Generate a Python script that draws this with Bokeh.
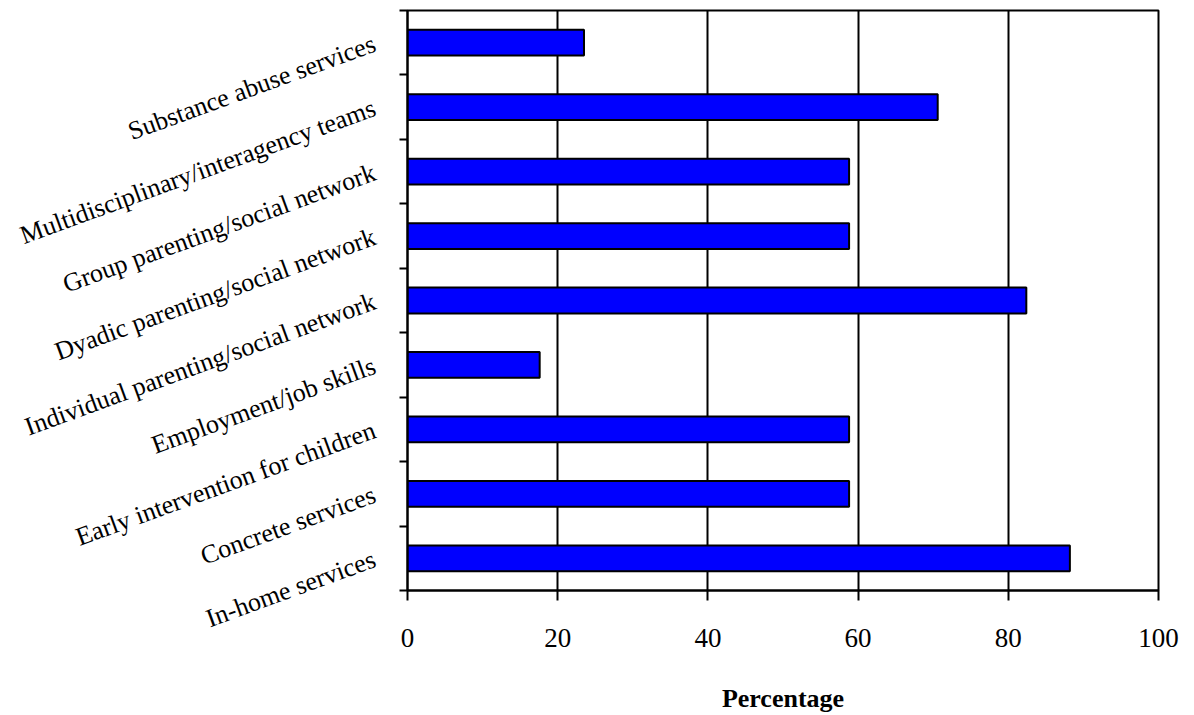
from bokeh.plotting import figure
from bokeh.models import FixedTicker, Range1d
from bokeh.embed import file_html
from bokeh.resources import INLINE

categories = [
    "In-home services",
    "Concrete services",
    "Early intervention for children",
    "Employment/job skills",
    "Individual parenting/social network",
    "Dyadic parenting/social network",
    "Group parenting/social network",
    "Multidisciplinary/interagency teams",
    "Substance abuse services",
]
percentages = [88.2, 58.8, 58.8, 17.6, 82.4, 58.8, 58.8, 70.6, 23.5]
x_ticks = [0, 20, 40, 60, 80, 100]

n = len(categories)
positions = list(range(n))

p = figure(width=1194, height=715, output_backend="svg", toolbar_location=None,
           x_range=Range1d(0, 100), y_range=Range1d(-0.5, n - 0.5),
           min_border_left=407, min_border_right=36, min_border_top=10, min_border_bottom=125)

p.hbar(y=positions, left=0, right=percentages, height=0.4,
       fill_color="#0000FF", line_color="black", line_width=2)

p.outline_line_color = "black"
p.outline_line_width = 2
p.outline_line_alpha = 1

p.xgrid.ticker = FixedTicker(ticks=x_ticks)
p.xgrid.grid_line_color = "black"
p.xgrid.grid_line_width = 2
p.ygrid.grid_line_color = None

xa = p.xaxis[0]
xa.ticker = FixedTicker(ticks=x_ticks)
xa.axis_line_width = 2
xa.major_tick_out = 10
xa.major_tick_in = 0
xa.major_tick_line_width = 2
xa.minor_tick_line_color = None
xa.major_label_standoff = 28
xa.major_label_text_font = "Liberation Serif"
xa.major_label_text_font_size = "27px"
xa.major_label_text_color = "black"
xa.axis_label = "Percentage"
xa.axis_label_text_font = "Liberation Serif"
xa.axis_label_text_font_style = "bold"
xa.axis_label_text_font_size = "26px"
xa.axis_label_text_color = "black"
xa.axis_label_standoff = 34

ya = p.yaxis[0]
ya.ticker = FixedTicker(ticks=positions, minor_ticks=[i - 0.5 for i in range(n + 1)])
ya.major_label_overrides = {i: c for i, c in zip(positions, categories)}
ya.axis_line_width = 2
ya.major_tick_out = 0
ya.major_tick_in = 0
ya.minor_tick_out = 8
ya.minor_tick_in = 0
ya.minor_tick_line_width = 2
ya.minor_tick_line_color = "black"
ya.major_label_orientation = 0.35
ya.major_label_standoff = 25
ya.major_label_text_font = "Liberation Serif"
ya.major_label_text_font_size = "26px"
ya.major_label_text_color = "black"

open("out.html", "w").write(file_html(p, INLINE))
